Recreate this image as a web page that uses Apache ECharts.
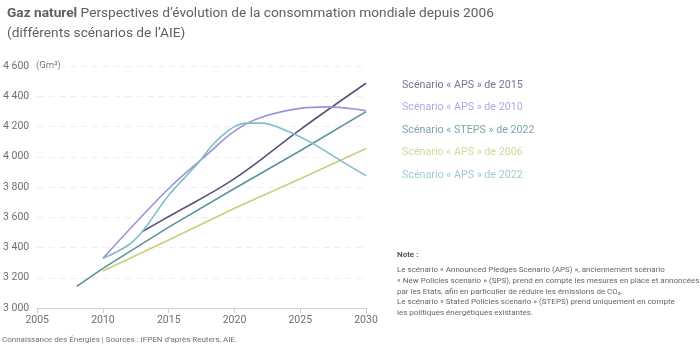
<!DOCTYPE html>
<html>
<head>
<meta charset="utf-8">
<script src="https://cdn.jsdelivr.net/npm/echarts@6/dist/echarts.min.js"></script>
<style>
html,body{margin:0;padding:0;background:#fff;}
#c{width:700px;height:347px;}
</style>
</head>
<body>
<div id="c"></div>
<script>
// ---- data ----
const yTicks = [3000, 3200, 3400, 3600, 3800, 4000, 4200, 4400, 4600];
const xTicks = [2005, 2010, 2015, 2020, 2025, 2030];

const aps2015Years  = [2013, 2015, 2020, 2025, 2030];
const aps2015Values = [3506, 3605, 3855, 4180, 4486];

const aps2010Years  = [2010, 2015, 2018, 2020, 2022, 2025, 2027, 2030];
const aps2010Values = [3328, 3790, 4020, 4170, 4260, 4320, 4330, 4305];

const steps2022Years  = [2008, 2010, 2015, 2020, 2025, 2030];
const steps2022Values = [3143, 3262, 3535, 3790, 4040, 4298];

const aps2006Years  = [2010, 2015, 2020, 2025, 2030];
const aps2006Values = [3245, 3450, 3660, 3855, 4055];

const aps2022Years  = [2010, 2012, 2013, 2015, 2017, 2019, 2021, 2022, 2024, 2026, 2028, 2030];
const aps2022Values = [3328, 3420, 3506, 3745, 3935, 4135, 4222, 4222, 4170, 4085, 3978, 3875];

const seriesNames = [
  'Scénario « APS » de 2015',
  'Scénario « APS » de 2010',
  'Scénario « STEPS » de 2022',
  'Scénario « APS » de 2006',
  'Scénario « APS » de 2022'
];
const seriesColors = ['#5a527f', '#9d92d8', '#5c939b', '#c3d27a', '#80bdc9'];
const legendColors = ['#77729a', '#b0a8e0', '#79a6ad', '#cfdb98', '#9ccbd6'];
const seriesYears = [aps2015Years, aps2010Years, steps2022Years, aps2006Years, aps2022Years];
const seriesValues = [aps2015Values, aps2010Values, steps2022Values, aps2006Values, aps2022Values];
const seriesSmooth = [true, true, false, false, true];

const noteLines = [
  'Le scénario « Announced Pledges Scenario (APS) », anciennement scénario',
  '« New Policies scenario » (SPS), prend en compte les mesures en place et annoncées',
  'par les Etats, afin en particulier de réduire les émissions de CO₂.',
  'Le scénario « Stated Policies scenario » (STEPS) prend uniquement en compte',
  'les politiques énergétiques existantes.'
];

// ---- chart ----
const chart = echarts.init(document.getElementById('c'), null, {renderer: 'canvas'});
const FONT = 'Roboto, "Noto Sans", sans-serif';

const series = seriesNames.map((name, i) => ({
  name: name,
  type: 'line',
  data: seriesYears[i].map((y, k) => [y, seriesValues[i][k]]),
  smooth: seriesSmooth[i] ? 0.4 : false,
  showSymbol: false,
  symbol: 'none',
  lineStyle: {color: seriesColors[i], width: 1.6},
  itemStyle: {color: seriesColors[i]},
  emphasis: {disabled: true}
}));

const option = {
  animation: false,
  backgroundColor: '#fff',
  textStyle: {fontFamily: FONT},
  title: {
    left: 2, top: -1,
    text: '{b|Gaz naturel} Perspectives d’évolution de la consommation mondiale depuis 2006\n(différents scénarios de l’AIE)',
    textStyle: {
      fontFamily: FONT, fontSize: 13.7, fontWeight: 'normal', color: '#606060', lineHeight: 19.5,
      rich: {b: {fontFamily: FONT, fontSize: 13.7, fontWeight: 'bold', color: '#606060', lineHeight: 19.5}}
    }
  },
  legend: {
    orient: 'vertical',
    left: 392, top: 74,
    icon: 'none',
    itemWidth: 0, itemHeight: 12, itemGap: 11,
    selectedMode: false,
    data: seriesNames.map((n, i) => ({name: n, textStyle: {color: legendColors[i]}})),
    textStyle: {fontFamily: FONT, fontSize: 10.7}
  },
  grid: {left: 33, right: 334, top: 66, bottom: 39, containLabel: false},
  xAxis: {
    type: 'value', min: 2005, max: 2030, interval: 5,
    axisLine: {show: true, lineStyle: {color: '#cfcfcf', width: 1}},
    axisTick: {show: true, length: 5, lineStyle: {color: '#cfcfcf'}},
    axisLabel: {color: '#707070', fontSize: 10.5, fontFamily: FONT, margin: 7, formatter: v => String(v)},
    splitLine: {show: false}
  },
  yAxis: {
    type: 'value', min: yTicks[0], max: yTicks[yTicks.length - 1], interval: 200,
    axisLine: {show: false},
    axisTick: {show: false},
    axisLabel: {
      color: '#707070', fontSize: 10.5, fontFamily: FONT, margin: 8,
      formatter: v => String(v).replace(/\B(?=(\d{3})+(?!\d))/g, ' ')
    },
    splitLine: {show: true, lineStyle: {color: '#eeeeee', type: [6, 5], width: 1}}
  },
  graphic: [
    {type: 'text', left: 36, top: 61, style: {text: '(Gm³)', fill: '#707070', font: '9.5px ' + FONT}},
    {type: 'text', left: 397, top: 251, style: {text: 'Note :', fill: '#555', font: 'bold 8px ' + FONT}},
    {type: 'text', left: 397, top: 265, style: {text: noteLines.join('\n'), fill: '#666', font: '8px ' + FONT, lineHeight: 10.7}},
    {type: 'text', left: 2, top: 336, style: {text: 'Connaissance des Énergies | Sources : IFPEN d’après Reuters, AIE.', fill: '#707070', font: '8px ' + FONT}}
  ],
  series: series
};
chart.setOption(option);
</script>
</body>
</html>
